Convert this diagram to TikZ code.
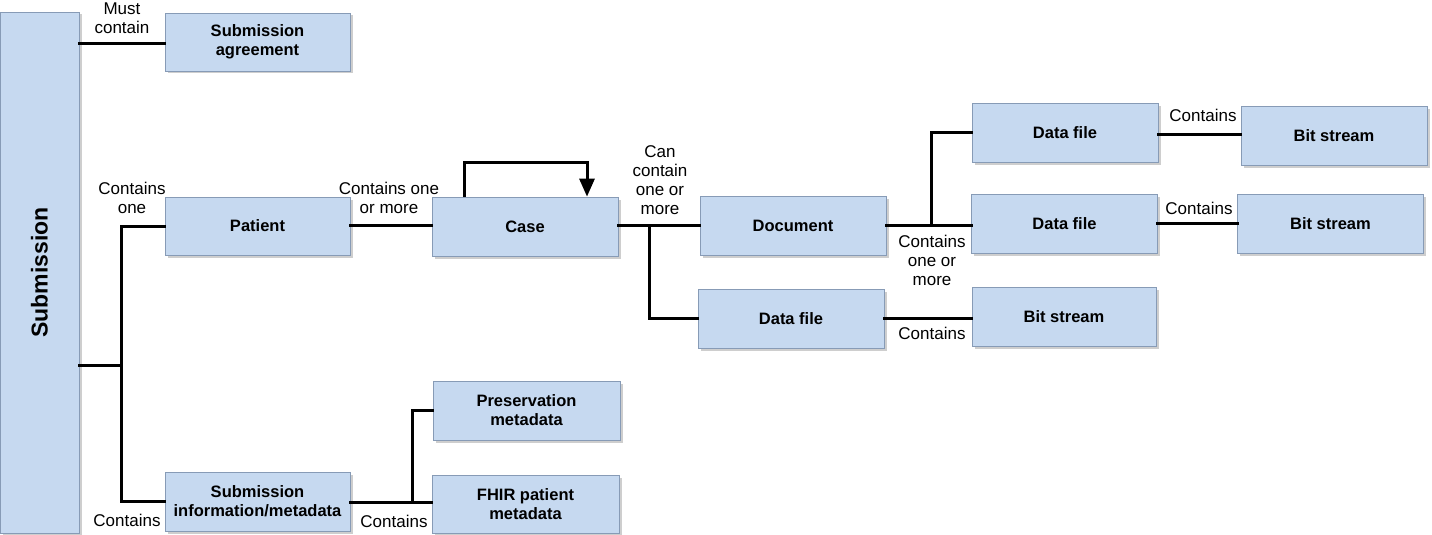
\documentclass[tikz,border=0pt]{standalone}
\usepackage{fontspec}
\setmainfont{Liberation Sans}
\usetikzlibrary{arrows.meta,shadows}

\definecolor{boxfill}{RGB}{198,217,240}
\definecolor{boxline}{RGB}{135,155,182}

\tikzset{
  entity/.style={draw=boxline, line width=0.8pt, fill=boxfill, inner sep=0pt,
    minimum width=186pt, minimum height=59pt, align=center,
    font=\fontsize{16.5}{19}\selectfont\bfseries,
    drop shadow={shadow xshift=2.5pt, shadow yshift=-2.5pt, opacity=0.35, fill=black!55}},
  rel/.style={font=\fontsize{17}{19}\selectfont, align=center, inner sep=0pt},
  link/.style={line width=3pt, line cap=rect},
  selflink/.style={line width=3pt, -{Triangle[width=15pt,length=18pt]}}
}

\begin{document}
\begin{tikzpicture}[x=1pt, y=-1pt]
  \useasboundingbox (0,0) rectangle (1432,535);

  % entities
  \node[entity, minimum width=79pt, minimum height=521pt] (sub) at (39.5,272.5)
    {\rotatebox{90}{\fontsize{23}{26}\selectfont Submission}};
  \node[entity, minimum width=185pt, minimum height=58pt] (agr) at (257.5,42) {Submission\\agreement};
  \node[entity, minimum width=185pt, minimum height=58pt] (pat) at (257.5,226) {Patient};
  \node[entity] (case) at (525,226.5) {Case};
  \node[entity] (doc)  at (793,225.5) {Document};
  \node[entity] (df1)  at (1065,132.5) {Data file};
  \node[entity] (bs1)  at (1334,135.5) {Bit stream};
  \node[entity] (df2)  at (1064.5,223.5) {Data file};
  \node[entity] (bs2)  at (1330.5,223.5) {Bit stream};
  \node[entity] (df3)  at (791,318.5) {Data file};
  \node[entity, minimum width=184pt] (bs3) at (1064,316.5) {Bit stream};
  \node[entity, minimum width=185pt] (sim) at (257.5,501.5) {Submission\\information/metadata};
  \node[entity, minimum width=187pt] (pres) at (526.5,410.5) {Preservation\\metadata};
  \node[entity, minimum width=187pt, minimum height=58pt] (fhir) at (525.5,504) {FHIR patient\\metadata};

  % junction points
  \coordinate (trunk) at (121,365);
  \coordinate (mid) at (0,225.5);
  \coordinate (cbr) at (649,225.5);
  \coordinate (dbr) at (931,225);
  \coordinate (sbr) at (412,502);
  \coordinate (loopL) at (464,162);
  \coordinate (loopR) at (587,162);

  % connectors
  \draw[link] (sub.east |- 0,44) -- (agr.west |- 0,44);
  \draw[link] (sub.east |- trunk) -- (trunk);
  \draw[link] (pat.west) -| (trunk) |- (sim.west);
  \draw[link] (pat.east |- mid) -- (case.west |- mid);
  \draw[selflink] (case.north -| loopL) -- (loopL) -- (loopR) -- (case.north -| loopR);
  \draw[link] (case.east |- mid) -- (doc.west |- mid);
  \draw[link] (cbr) |- (df3.west);
  \draw[link] (doc.east |- dbr) -- (df2.west |- dbr);
  \draw[link] (dbr) |- (df1.west);
  \draw[link] (df1.east |- 0,134) -- (bs1.west |- 0,134);
  \draw[link] (df2.east) -- (bs2.west);
  \draw[link] (df3.east) -- (df3.east -| bs3.west);
  \draw[link] (sim.east |- sbr) -- (fhir.west |- sbr);
  \draw[link] (sbr) |- (pres.west);

  % relation labels
  \node[rel] (l1) at (122,18) {Must\\contain};
  \node[rel] (l2) at (132,198) {Contains\\one};
  \node[rel] (l3) at (389,198) {Contains one\\or more};
  \node[rel] (l4) at (660,180.5) {Can\\contain\\one or\\more};
  \node[rel] (l5) at (932,260) {Contains\\one or\\more};
  \node[rel] (l6) at (1203,115) {Contains};
  \node[rel] (l7) at (1199,208) {Contains};
  \node[rel] (l8) at (932,333) {Contains};
  \node[rel] (l9) at (127,520) {Contains};
  \node[rel] (l10) at (394,521) {Contains};
\end{tikzpicture}
\end{document}
